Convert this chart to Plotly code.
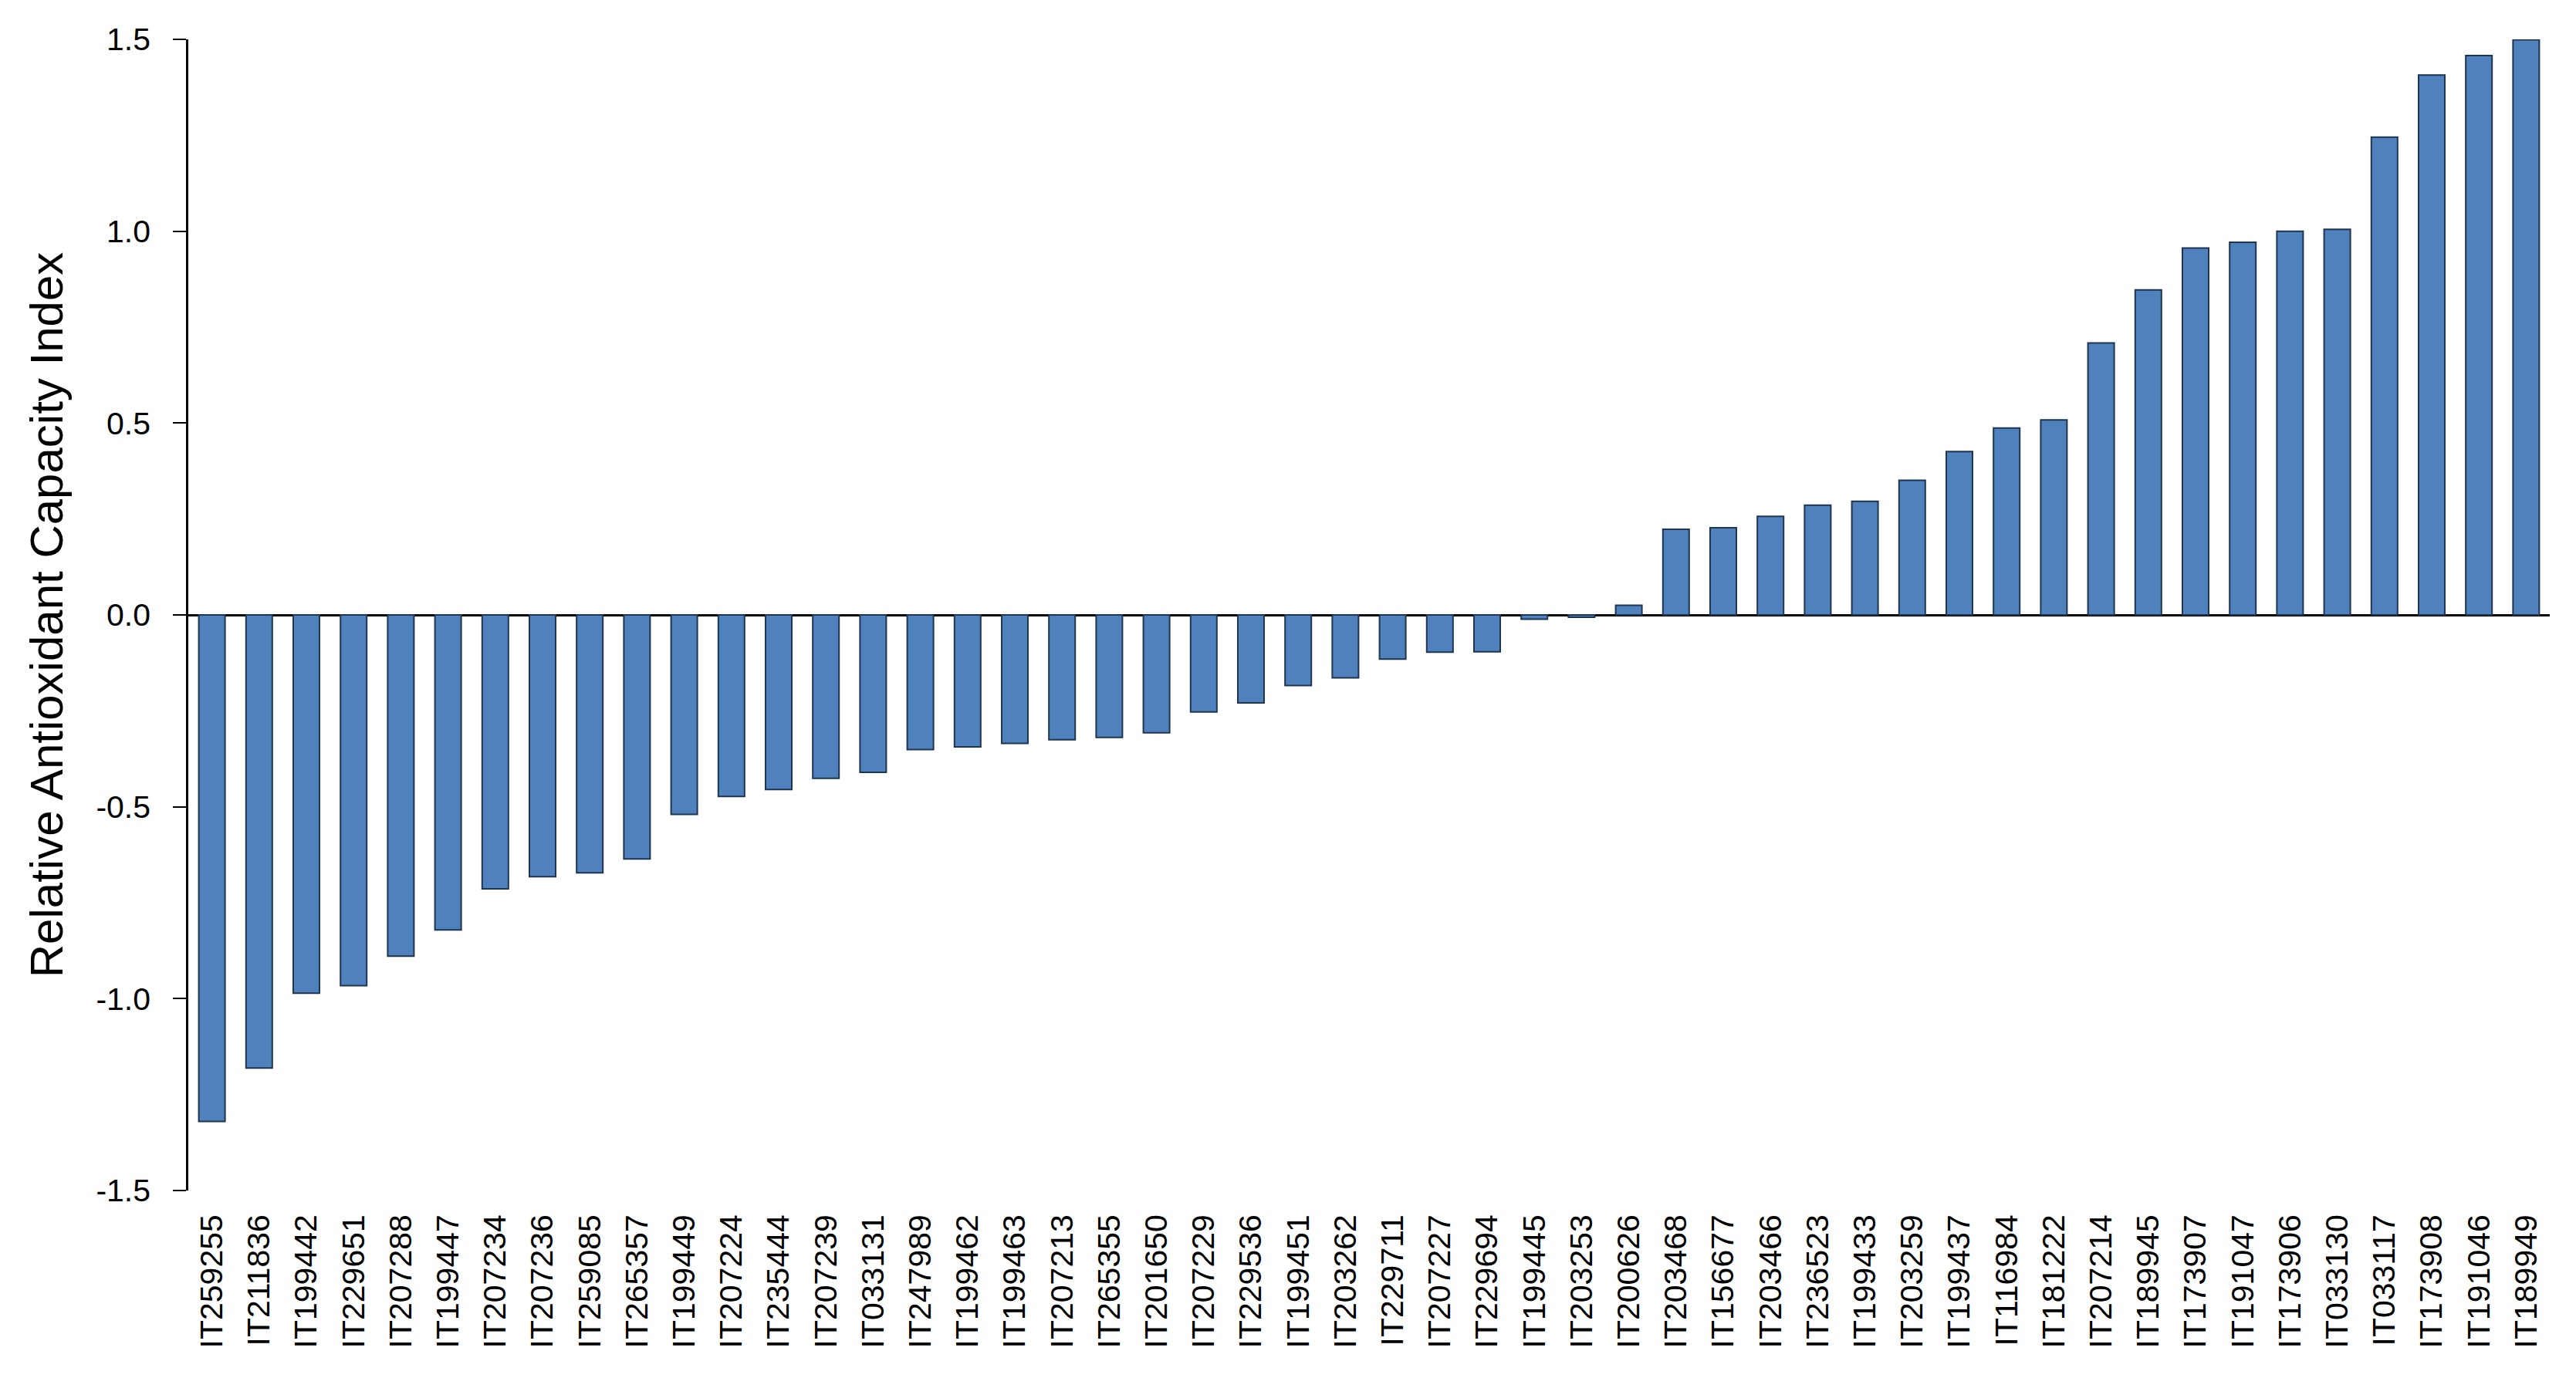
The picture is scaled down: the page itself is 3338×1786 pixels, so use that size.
import plotly.graph_objects as go

categories = [
    "IT259255", "IT211836", "IT199442", "IT229651", "IT207288", "IT199447", "IT207234",
    "IT207236", "IT259085", "IT265357", "IT199449", "IT207224", "IT235444", "IT207239",
    "IT033131", "IT247989", "IT199462", "IT199463", "IT207213", "IT265355", "IT201650",
    "IT207229", "IT229536", "IT199451", "IT203262", "IT229711", "IT207227", "IT229694",
    "IT199445", "IT203253", "IT200626", "IT203468", "IT156677", "IT203466", "IT236523",
    "IT199433", "IT203259", "IT199437", "IT116984", "IT181222", "IT207214", "IT189945",
    "IT173907", "IT191047", "IT173906", "IT033130", "IT033117", "IT173908", "IT191046",
    "IT189949",
]

values = [
    -1.320, -1.181, -0.986, -0.966, -0.889, -0.821, -0.714,
    -0.682, -0.672, -0.636, -0.520, -0.473, -0.455, -0.426,
    -0.410, -0.351, -0.344, -0.335, -0.325, -0.319, -0.307,
    -0.253, -0.229, -0.184, -0.164, -0.115, -0.097, -0.096,
    -0.011, -0.006, 0.025, 0.223, 0.227, 0.257, 0.286,
    0.296, 0.351, 0.426, 0.487, 0.508, 0.709, 0.847,
    0.956, 0.971, 1.000, 1.005, 1.245, 1.407, 1.458,
    1.499,
]

y_ticks = [-1.5, -1.0, -0.5, 0.0, 0.5, 1.0, 1.5]
y_tick_labels = ["-1.5", "-1.0", "-0.5", "0.0", "0.5", "1.0", "1.5"]
y_title = "Relative Antioxidant Capacity Index"

FONT = "Arial, Liberation Sans, Helvetica, sans-serif"

fig = go.Figure(
    go.Bar(
        x=categories,
        y=values,
        marker=dict(color="#4F81BD", line=dict(color="#1F3550", width=2)),
    )
)

fig.update_layout(
    width=3338,
    height=1786,
    margin=dict(l=244, r=34, t=51, b=243, autoexpand=False),
    paper_bgcolor="white",
    plot_bgcolor="white",
    bargap=0.444,
    showlegend=False,
    font=dict(family=FONT, color="black"),
)

fig.update_xaxes(
    type="category",
    range=[-0.5, len(categories) - 0.5],
    tickangle=-90,
    tickfont=dict(size=41, family=FONT, color="black"),
    showgrid=False,
    showline=False,
    ticks="",
    zeroline=False,
    ticklabelstandoff=22,
    automargin=False,
)

fig.update_yaxes(
    range=[-1.5, 1.5],
    tickvals=y_ticks,
    ticktext=y_tick_labels,
    tickfont=dict(size=41, family=FONT, color="black"),
    ticks="outside",
    ticklen=17,
    tickwidth=2,
    tickcolor="black",
    showline=True,
    linecolor="black",
    linewidth=2.5,
    showgrid=False,
    zeroline=True,
    zerolinecolor="black",
    zerolinewidth=3,
    ticklabelstandoff=21,
    automargin=False,
    title=dict(text=y_title, font=dict(size=60, family=FONT, color="black"), standoff=24),
)

fig.write_html("out.html")
